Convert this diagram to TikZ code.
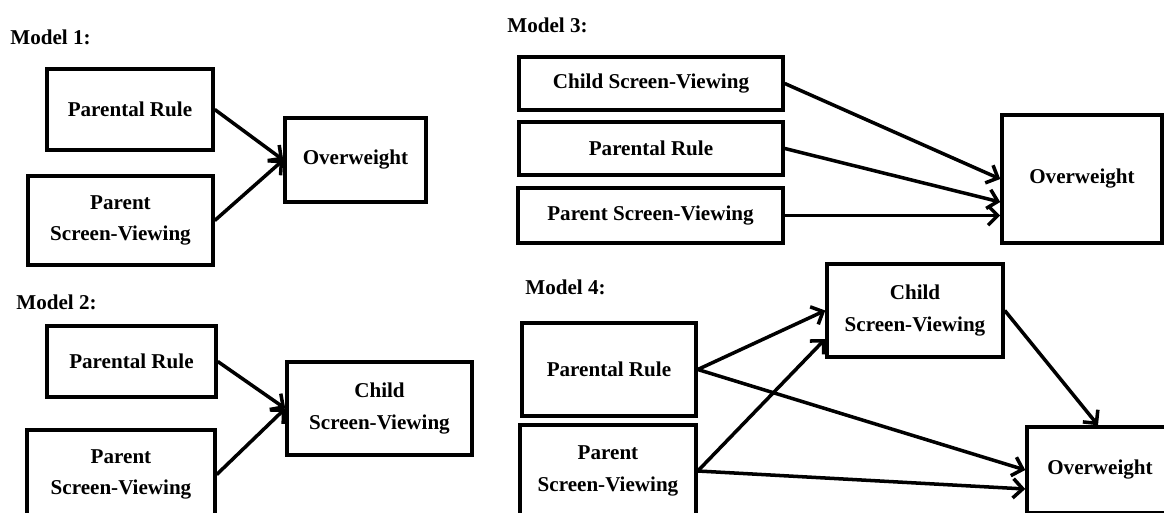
\documentclass[tikz,border=0pt]{standalone}
\usepackage{fontspec}
\setmainfont{Liberation Serif}
\usetikzlibrary{arrows.meta}

\begin{document}
\begin{tikzpicture}[
	box/.style={draw=black, line width=2pt, align=center, inner sep=0pt, font=\bfseries\fontsize{12}{18}\selectfont},
	link/.style={draw=black, line width=2pt, -{Straight Barb[length=5.5pt,width=11pt]}},
	title/.style={anchor=west, inner sep=0pt, font=\bfseries\fontsize{12}{14}\selectfont}]
	\useasboundingbox (0,0) rectangle (23.28,10.24);
	\node[title] (m1) at (0.20,9.50) {Model 1:};
	\node[box, minimum width=3.32cm, minimum height=1.62cm] (pr1) at (2.60,8.05) {Parental Rule};
	\node[box, minimum width=3.70cm, minimum height=1.78cm] (psv1) at (2.41,5.83) {Parent\\Screen-Viewing};
	\node[box, minimum width=2.82cm, minimum height=1.68cm] (ow1) at (7.11,7.04) {Overweight};
	\node[title] (m2) at (0.32,4.20) {Model 2:};
	\node[box, minimum width=3.38cm, minimum height=1.42cm] (pr2) at (2.63,3.01) {Parental Rule};
	\node[box, minimum width=3.76cm, minimum height=1.78cm] (psv2) at (2.42,0.75) {Parent\\Screen-Viewing};
	\node[box, minimum width=3.70cm, minimum height=1.86cm] (csv2) at (7.59,2.07) {Child\\Screen-Viewing};
	\node[title] (m3) at (10.14,9.74) {Model 3:};
	\node[box, minimum width=5.28cm, minimum height=1.06cm] (csv3) at (13.02,8.57) {Child Screen-Viewing};
	\node[box, minimum width=5.28cm, minimum height=1.06cm] (pr3) at (13.02,7.27) {Parental Rule};
	\node[box, minimum width=5.30cm, minimum height=1.10cm] (psv3) at (13.01,5.93) {Parent Screen-Viewing};
	\node[box, minimum width=3.20cm, minimum height=2.56cm] (ow3) at (21.64,6.66) {Overweight};
	\node[title] (m4) at (10.50,4.50) {Model 4:};
	\node[box, minimum width=3.48cm, minimum height=1.86cm] (pr4) at (12.18,2.85) {Parental Rule};
	\node[box, minimum width=3.52cm, minimum height=1.84cm] (psv4) at (12.16,0.82) {Parent\\Screen-Viewing};
	\node[box, minimum width=3.52cm, minimum height=1.86cm] (csv4) at (18.30,4.03) {Child\\Screen-Viewing};
	\node[box, minimum width=2.92cm, minimum height=1.72cm] (ow4) at (22.00,0.84) {Overweight};
	\draw[link] (pr1.east) -- (ow1.west);
	\draw[link] (psv1.east) -- (ow1.west);
	\draw[link] (pr2.east) -- (csv2.west);
	\draw[link] (psv2.east) -- (csv2.west);
	\draw[link] (csv3.east) -- (ow3.west);
	\draw[link] (pr3.east) -- ([yshift=-0.46cm]ow3.west);
	\draw[link] (psv3.east) -- (psv3.east -| ow3.west);
	\draw[link] (pr4.east) -- (csv4.west);
	\draw[link] (pr4.east) -- (ow4.west);
	\draw[link] (psv4.east) -- ([yshift=-0.57cm]csv4.west);
	\draw[link] (psv4.east) -- ([yshift=-0.38cm]ow4.west);
	\draw[link] (csv4.east) -- ([xshift=-0.04cm]ow4.north);
\end{tikzpicture}
\end{document}
